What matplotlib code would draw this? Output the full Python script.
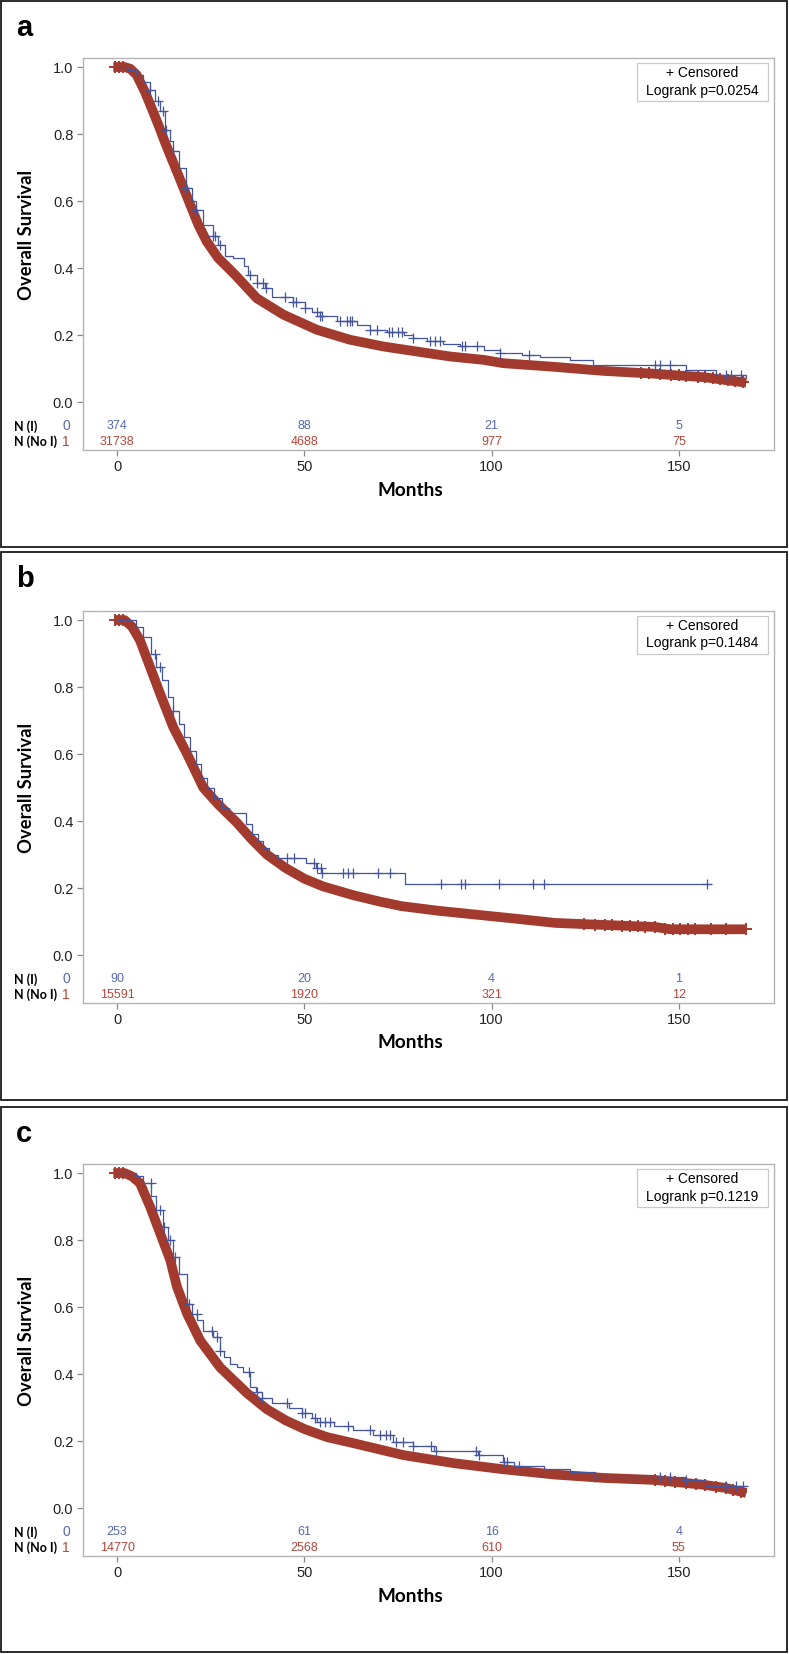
import numpy as np
import matplotlib
matplotlib.use("Agg")
import matplotlib.pyplot as plt
from matplotlib import transforms
from matplotlib.patches import Rectangle

W, H = 789, 1654

BLUE = '#44559c'
RED = '#a23a2e'
BLUE_TXT = '#5668b0'
RED_TXT = '#b5453a'

panels = ['a', 'b', 'c']
pvalues = ['0.0254', '0.1484', '0.1219']
risk_times = [0, 50, 100, 150]
risk_i = [[374, 88, 21, 5], [90, 20, 4, 1], [253, 61, 16, 4]]
risk_noi = [[31738, 4688, 977, 75], [15591, 1920, 321, 12], [14770, 2568, 610, 55]]

# ---- panel a ----
a_red_t = [-1, 2, 3.5, 5.2, 7.4, 9.2, 11, 12.7, 14.5, 16.3, 18.1, 19.9, 21.7, 23.9, 27, 31.5, 37.3, 44.4, 53.3, 62.2, 71.1, 80, 89, 97.9, 103.2, 117, 130, 143, 157, 163, 168]
a_red_s = [1.0, 1.0, 0.995, 0.977, 0.927, 0.878, 0.828, 0.778, 0.728, 0.679, 0.629, 0.579, 0.529, 0.48, 0.43, 0.38, 0.31, 0.261, 0.216, 0.186, 0.166, 0.151, 0.136, 0.126, 0.116, 0.105, 0.093, 0.085, 0.074, 0.065, 0.058]
a_red_cens = [-0.5, 0.5, 1.5, 140, 142, 145, 148, 150, 152, 155, 157, 159, 161, 163, 165, 167]
a_blue_t = [0, 3, 5, 7, 8.7, 10, 11.4, 12.7, 14, 15, 16.5, 18.5, 20, 21.2, 23, 25.7, 27, 28.8, 31, 34, 35, 37.3, 39.5, 41.3, 44.4, 47.1, 50.2, 52, 54.2, 58.6, 64, 67.6, 72, 76.5, 79, 82.7, 87, 91.6, 97.9, 102.3, 108, 113, 121, 127, 152, 160, 168]
a_blue_s = [1.0, 0.99, 0.975, 0.955, 0.932, 0.90, 0.868, 0.813, 0.78, 0.748, 0.70, 0.639, 0.60, 0.574, 0.529, 0.495, 0.47, 0.435, 0.43, 0.406, 0.38, 0.355, 0.34, 0.315, 0.313, 0.30, 0.28, 0.27, 0.256, 0.241, 0.231, 0.216, 0.21, 0.201, 0.19, 0.181, 0.172, 0.166, 0.156, 0.146, 0.14, 0.135, 0.125, 0.11, 0.095, 0.08, 0.075]
a_blue_cens = [8.7, 11.0, 12.3, 13.0, 15.0, 18.5, 21.2, 25.7, 26.1, 27.5, 35.5, 37.3, 39.0, 39.8, 44.8, 47.1, 47.9, 50.2, 53.3, 54.2, 54.6, 59.5, 61.3, 62.2, 62.7,
               67.6, 69.3, 72.5, 73.3, 75.1, 76.0, 79.1, 83.6, 84.9, 86.3, 92.1, 93.0, 96.1, 102.3, 110, 143.7, 145, 147.7, 162.5, 163.9, 166.6]

# ---- panel b ----
b_red_t = [-0.5, 2, 4, 6.1, 8.8, 11.5, 15, 18.7, 23, 27, 32, 36, 40, 45, 50, 55, 63, 70, 76, 86, 96.5, 107, 117, 130, 143.6, 147.7, 168]
b_red_s = [1.0, 1.0, 0.98, 0.94, 0.86, 0.78, 0.68, 0.60, 0.50, 0.45, 0.395, 0.345, 0.30, 0.26, 0.228, 0.205, 0.179, 0.16, 0.146, 0.132, 0.12, 0.108, 0.096, 0.09, 0.084, 0.077, 0.077]
b_red_cens = [-0.5, 0.5, 1.5, 124.8, 127.5, 130.2, 132.2, 134.9, 137, 139, 141, 143.7, 146.4, 148.4, 150.4, 152.4, 154.4, 158.5, 162.5, 167.9]
b_blue_t = [0, 5, 7, 9, 10.5, 12, 13.5, 15, 16.5, 18, 19.5, 21, 22.5, 24, 26, 28, 30, 34.5, 36, 37.5, 39, 40.5, 43, 50.5, 53, 54.5, 76.9, 158.5]
b_blue_s = [1.0, 0.98, 0.95, 0.90, 0.86, 0.82, 0.77, 0.73, 0.69, 0.65, 0.61, 0.57, 0.53, 0.50, 0.47, 0.44, 0.424, 0.39, 0.36, 0.34, 0.32, 0.30, 0.29, 0.275, 0.26, 0.245, 0.213, 0.213]
b_blue_cens = [10, 11.5, 15, 45.4, 47.2, 52.6, 53.5, 54.4, 54.6, 60.2, 61.6, 63, 69.7, 73, 86.4, 91.7, 92.8, 102, 111, 114, 157.5]

# ---- panel c ----
c_red_t = [-1, 2, 4, 6.1, 8.8, 11.5, 14.2, 16, 18.7, 22.2, 27.5, 34.7, 40, 45, 50, 56, 63, 76.5, 90, 103, 117, 130, 143.6, 157, 162.5, 168]
c_red_s = [1.0, 1.0, 0.99, 0.97, 0.90, 0.82, 0.74, 0.66, 0.58, 0.50, 0.42, 0.343, 0.295, 0.262, 0.236, 0.212, 0.194, 0.158, 0.134, 0.116, 0.10, 0.09, 0.084, 0.069, 0.06, 0.045]
c_red_cens = [-0.5, 0.5, 1.5, 143.7, 146.4, 149.1, 151.8, 154.5, 157.1, 159.8, 162.5, 164.5, 166.6]
c_blue_t = [0, 5, 7, 9.1, 10.5, 12.3, 13.5, 15, 16.5, 18.7, 20, 21.4, 23, 25.7, 27.5, 28.5, 30.2, 32, 33.7, 35.6, 37, 38.7, 41.4, 46, 49.5, 52, 53.5, 58, 63, 68.3, 73.7, 79, 84.5, 96.5, 103, 106, 114, 121, 127.5, 151.6, 157, 168]
c_blue_s = [1.0, 0.99, 0.97, 0.93, 0.89, 0.84, 0.80, 0.75, 0.70, 0.61, 0.58, 0.56, 0.53, 0.51, 0.47, 0.45, 0.43, 0.42, 0.406, 0.36, 0.345, 0.33, 0.313, 0.30, 0.283, 0.27, 0.257, 0.245, 0.233, 0.218, 0.197, 0.185, 0.17, 0.158, 0.137, 0.125, 0.116, 0.108, 0.093, 0.084, 0.066, 0.066]
c_blue_cens = [9.0, 11.5, 12.4, 14.2, 15.5, 19.1, 21.3, 25.3, 26.6, 27.5, 35.3, 37.4, 38.7, 45.4, 49.5, 50.1, 52.8, 54.2, 55.5, 56.9, 61.6, 67.6, 70.3, 71.7, 73, 74.4,
               76.4, 79.1, 83.8, 85.1, 95.9, 96.6, 103.3, 104, 107.4, 127.5, 145, 147.7, 151.8, 162.5, 165.2, 167.2]

data = [
    (a_red_t, a_red_s, a_red_cens, a_blue_t, a_blue_s, a_blue_cens),
    (b_red_t, b_red_s, b_red_cens, b_blue_t, b_blue_s, b_blue_cens),
    (c_red_t, c_red_s, c_red_cens, c_blue_t, c_blue_s, c_blue_cens),
]

# pixel layout: (panel top, panel bottom, axes top, axes bottom)
layout = [(1, 547, 58, 450), (552, 1100, 611, 1003), (1107, 1652, 1164, 1556)]
AX_L, AX_R = 83, 774


def step_val(times, surv, t):
    i = np.searchsorted(times, t, side='right') - 1
    return np.asarray(surv)[np.clip(i, 0, len(surv) - 1)]


fig = plt.figure(figsize=(W / 100, H / 100), dpi=100)

for k in range(3):
    ptop, pbot, atop, abot = layout[k]
    rt, rs, rc, bt, bs, bc = data[k]

    # panel frame
    fig.add_artist(Rectangle((1 / W, 1 - pbot / H), 786 / W, (pbot - ptop) / H,
                             transform=fig.transFigure, fill=False, ec='#1a1a1a', lw=1.3))
    fig.text(16 / W, 1 - (ptop + 27) / H, panels[k], fontsize=21, fontweight='bold',
             family='Liberation Sans', ha='left', va='center')

    ax = fig.add_axes([AX_L / W, 1 - abot / H, (AX_R - AX_L) / W, (abot - atop) / H])
    ax.set_xlim(-9.1, 175.4)
    ax.set_ylim(-0.143, 1.027)

    # red group (No I): dense censoring gives a thick band
    ax.plot(rt, rs, color=RED, lw=7, solid_capstyle='butt', solid_joinstyle='round', zorder=2)
    ax.plot(rc, np.interp(rc, rt, rs), ls='none', marker='+', ms=9, mew=1.4, color=RED, zorder=2)

    # blue group (I)
    ax.plot(bt, bs, color=BLUE, lw=0.9, drawstyle='steps-post', zorder=3)
    ax.plot(bc, step_val(bt, bs, bc), ls='none', marker='+', ms=6.5, mew=0.9, color=BLUE, zorder=3)

    for s in ax.spines.values():
        s.set_color('#b4b4b4')
        s.set_linewidth(1.0)
    ax.set_yticks([0.0, 0.2, 0.4, 0.6, 0.8, 1.0])
    ax.set_yticklabels(['0.0', '0.2', '0.4', '0.6', '0.8', '1.0'])
    ax.set_xticks(risk_times)
    ax.tick_params(axis='both', colors='#888888', length=4, width=0.9, labelsize=10.5,
                   labelcolor='#222222', pad=3)
    for lab in ax.get_xticklabels() + ax.get_yticklabels():
        lab.set_family('Liberation Sans')

    # legend box
    bx0 = (637 - AX_L) / (AX_R - AX_L)
    bx1 = (768 - AX_L) / (AX_R - AX_L)
    hgt = abot - atop
    by1 = 1 - 5 / hgt
    by0 = 1 - 43 / hgt
    ax.add_patch(Rectangle((bx0, by0), bx1 - bx0, by1 - by0, transform=ax.transAxes,
                           fill=True, fc='white', ec='#c8c8c8', lw=0.9, zorder=5))
    xm = (bx0 + bx1) / 2
    ax.text(xm, 1 - 15 / hgt, '+ Censored', transform=ax.transAxes, ha='center', va='center',
            fontsize=10, family='Liberation Sans', zorder=6)
    ax.text(xm, 1 - 32.5 / hgt, 'Logrank p=' + pvalues[k], transform=ax.transAxes, ha='center',
            va='center', fontsize=10, family='Liberation Sans', zorder=6)

    # number at risk rows
    tr = transforms.blended_transform_factory(ax.transAxes, ax.transData)
    for t, n1, n2 in zip(risk_times, risk_i[k], risk_noi[k]):
        ax.text(t, -0.072, str(n1), color=BLUE_TXT, ha='center', va='center', fontsize=9,
                family='Liberation Sans')
        ax.text(t, -0.119, str(n2), color=RED_TXT, ha='center', va='center', fontsize=9,
                family='Liberation Sans')
    ax.text((14 - AX_L) / (AX_R - AX_L), -0.072, 'N (I)', transform=tr, ha='left', va='center',
            fontsize=9, fontweight='bold', family='Lato')
    ax.text((14 - AX_L) / (AX_R - AX_L), -0.119, 'N (No I)', transform=tr, ha='left', va='center',
            fontsize=9, fontweight='bold', family='Lato')
    ax.text((66 - AX_L) / (AX_R - AX_L), -0.072, '0', transform=tr, ha='center', va='center',
            fontsize=10, color=BLUE_TXT, family='Liberation Sans')
    ax.text((66 - AX_L) / (AX_R - AX_L), -0.119, '1', transform=tr, ha='center', va='center',
            fontsize=10, color=RED_TXT, family='Liberation Sans')

    # axis titles
    ax.text((27 - AX_L) / (AX_R - AX_L), 0.5, 'Overall Survival', transform=tr, rotation=90,
            ha='center', va='center', fontsize=13.2, fontweight='bold', family='Lato')
    ax.text((410 - AX_L) / (AX_R - AX_L), -40 / hgt, 'Months', transform=ax.transAxes,
            ha='center', va='center', fontsize=13.7, fontweight='bold', family='Lato')

fig.savefig('out.png', dpi=100, facecolor='white')
